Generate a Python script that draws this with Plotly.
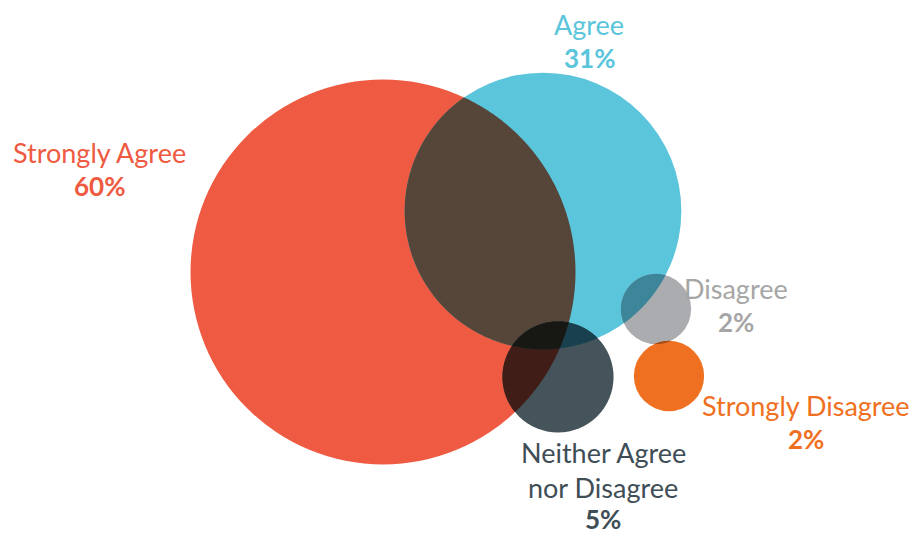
import math
from itertools import combinations
import plotly.graph_objects as go

# ---- data ----
categories = ["Strongly Agree", "Agree", "Neither Agree nor Disagree", "Disagree", "Strongly Disagree"]
values = [60, 31, 5, 2, 2]  # percent

# ---- layout / style (not data) ----
colors = ["#EF5A42", "#5BC5DC", "#45535A", "#ABACB0", "#F07022"]
text_colors = ["#EF5A42", "#5BC5DC", "#3F4E56", "#A6A6A6", "#F07022"]
centers = [(383, 272), (543, 211), (558, 377), (656, 309), (669, 376)]
label_lines = [["Strongly Agree"], ["Agree"], ["Neither Agree", "nor Disagree"], ["Disagree"], ["Strongly Disagree"]]
label_pos = [(99, 152), (589, 24), (603, 452), (736, 288), (806, 405)]
line_gap = 35
scale = 24.85  # px radius per sqrt(percent): circle area proportional to value


def hex_rgb(h):
    h = h.lstrip("#")
    return [int(h[i:i + 2], 16) for i in (0, 2, 4)]


def multiply(cols):
    out = [255, 255, 255]
    for c in cols:
        rgb = hex_rgb(c)
        out = [o * v / 255.0 for o, v in zip(out, rgb)]
    return "rgb(%d,%d,%d)" % tuple(round(o) for o in out)


radii = [scale * math.sqrt(v) for v in values]

fig = go.Figure()
fig.add_trace(go.Scatter(x=[0, 910], y=[0, 533], mode="markers",
                         marker=dict(opacity=0), hoverinfo="skip", showlegend=False))

shapes = []
annotations = []
font_family = "Lato, 'Open Sans', sans-serif"

# base circles
for col, (cx, cy), r in zip(colors, centers, radii):
    shapes.append(dict(type="circle", xref="x", yref="y",
                       x0=cx - r, x1=cx + r, y0=cy - r, y1=cy + r,
                       fillcolor=col, line=dict(width=0), layer="below"))

# overlap regions with multiply-blended colours
N = 1440
for k in (2, 3):
    for S in combinations(range(len(values)), k):
        pts = []
        for i in S:
            cx, cy = centers[i]
            r = radii[i]
            for n in range(N):
                a = 2 * math.pi * n / N
                px, py = cx + r * math.cos(a), cy + r * math.sin(a)
                if all(math.hypot(px - centers[j][0], py - centers[j][1]) <= radii[j] + 1e-9
                       for j in S if j != i):
                    pts.append((px, py))
        if len(pts) < 3:
            continue
        mx = sum(p[0] for p in pts) / len(pts)
        my = sum(p[1] for p in pts) / len(pts)
        pts.sort(key=lambda p: math.atan2(p[1] - my, p[0] - mx))
        path = "M " + " L ".join("%.2f,%.2f" % p for p in pts) + " Z"
        shapes.append(dict(type="path", xref="x", yref="y", path=path,
                           fillcolor=multiply([colors[i] for i in S]),
                           line=dict(width=0), layer="below"))

# labels
for v, tcol, lines, (lx, ly) in zip(values, text_colors, label_lines, label_pos):
    y = ly
    for ln in lines:
        annotations.append(dict(x=lx, y=y, xref="x", yref="y", text=ln, showarrow=False,
                                xanchor="center", yanchor="middle",
                                font=dict(family=font_family, size=27, color=tcol)))
        y += line_gap
    annotations.append(dict(x=lx, y=min(y - 1, 519), xref="x", yref="y", text="<b>%d%%</b>" % v,
                            showarrow=False, xanchor="center", yanchor="middle",
                            font=dict(family=font_family, size=26, color=tcol)))

fig.update_layout(
    width=910, height=533,
    margin=dict(l=0, r=0, t=0, b=0),
    paper_bgcolor="white", plot_bgcolor="white",
    xaxis=dict(range=[0, 910], visible=False, fixedrange=True),
    yaxis=dict(range=[533, 0], visible=False, fixedrange=True),
    shapes=shapes, annotations=annotations, showlegend=False,
)

post = """
document.body.style.margin = '0';
document.body.style.overflow = 'hidden';
"""
fig.write_html("out.html", post_script=post, config={"displayModeBar": False})
